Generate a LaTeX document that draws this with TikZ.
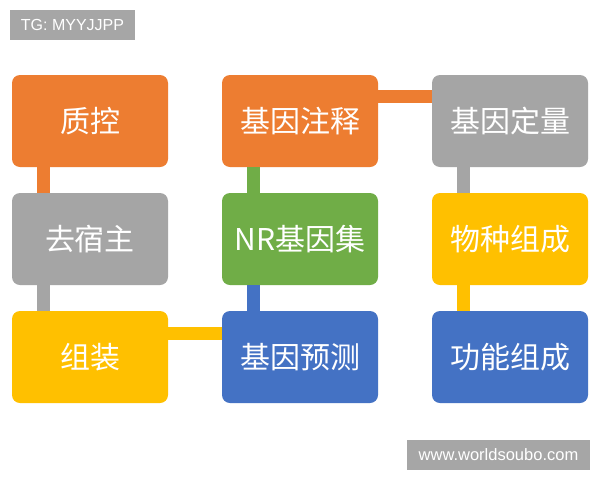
\documentclass[tikz,border=0pt]{standalone}
\usepackage{fontspec}
\setmainfont{Liberation Sans}
\newfontfamily\cjk{Noto Sans CJK SC}
\definecolor{boxorange}{HTML}{ED7D31}
\definecolor{boxgray}{HTML}{A5A5A5}
\definecolor{boxgreen}{HTML}{70AD47}
\definecolor{boxyellow}{HTML}{FFC000}
\definecolor{boxblue}{HTML}{4472C4}
\definecolor{taggray}{HTML}{A6A6A6}
\begin{document}
\begin{tikzpicture}[x=1pt,y=-1pt]
        % Styles
        \tikzstyle{step box}=[rounded corners=8pt,minimum width=156pt,minimum height=92pt,inner sep=0pt,text=white,font=\cjk\fontsize{30}{32}\selectfont]
        \tikzstyle{tag}=[fill=taggray,text=white,inner sep=0pt,minimum height=30pt]
        \tikzstyle{link}=[line width=13pt]
        %The graphic
        \useasboundingbox (0,0) rectangle (600,480);
        \fill[white] (0,0) rectangle (600,480);
        %tags
        \node[tag,minimum width=125pt,font=\fontsize{16}{18}\selectfont] (tg) at (72.5,25) {TG: MYYJJPP};
        \node[tag,minimum width=183pt,font=\fontsize{16.5}{18}\selectfont] (web) at (498.5,455) {www.worldsoubo.com};
        %boxes
        \foreach \name/\x/\y/\col/\txt in {qc/90/121/boxorange/质控,
                host/90/239/boxgray/去宿主,
                asm/90/357/boxyellow/组装,
                anno/300/121/boxorange/基因注释,
                nr/300/239/boxgreen/NR基因集,
                pred/300/357/boxblue/基因预测,
                quant/510/121/boxgray/基因定量,
                spec/510/239/boxyellow/物种组成,
                func/510/357/boxblue/功能组成}
            \node[step box,fill=\col] (\name) at (\x,\y) {\txt};
        %links
        \draw[link,color=boxorange] ([xshift=-47pt]qc.south) -- ([xshift=-47pt]host.north);
        \draw[link,color=boxgray] ([xshift=-47pt]host.south) -- ([xshift=-47pt]asm.north);
        \draw[link,color=boxyellow] ([yshift=24pt]asm.east) -- ([yshift=24pt]pred.west);
        \draw[link,color=boxblue] ([xshift=-47pt]pred.north) -- ([xshift=-47pt]nr.south);
        \draw[link,color=boxgreen] ([xshift=-47pt]nr.north) -- ([xshift=-47pt]anno.south);
        \draw[link,color=boxorange] ([yshift=24.5pt]anno.east) -- ([yshift=24.5pt]quant.west);
        \draw[link,color=boxgray] ([xshift=-47pt]quant.south) -- ([xshift=-47pt]spec.north);
        \draw[link,color=boxyellow] ([xshift=-47pt]spec.south) -- ([xshift=-47pt]func.north);
    \end{tikzpicture}
\end{document}
